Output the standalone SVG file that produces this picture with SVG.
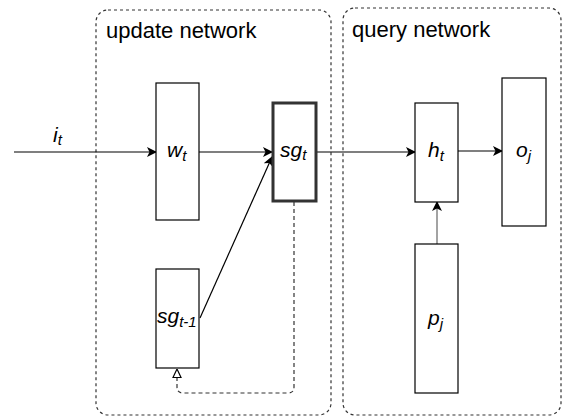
<svg xmlns="http://www.w3.org/2000/svg" width="564" height="419" viewBox="0 0 564 419">
  <style>
    .group { fill: none; stroke: #333; stroke-width: 1.2; stroke-dasharray: 3 3; }
    .box { fill: #fff; stroke: #000; stroke-width: 1.2; }
    .box-bold { fill: #fff; stroke: #333; stroke-width: 3; }
    .title { font-family: "Liberation Sans", Arial, sans-serif; font-size: 22px; fill: #000; }
    .lbl { font-family: "Liberation Sans", Arial, sans-serif; font-size: 21px; font-style: italic; fill: #000; }
    .sub { font-size: 15px; }
    .edge { fill: none; stroke: #000; stroke-width: 1.2; }
    .feedback { fill: none; stroke: #333; stroke-width: 1.2; stroke-dasharray: 4 3; }
  </style>
  <defs>
    <marker id="arrow" viewBox="0 0 10 10" refX="9" refY="5" markerWidth="10" markerHeight="10" markerUnits="userSpaceOnUse" orient="auto">
      <path d="M0,0 L10,5 L0,10 L2.5,5 Z" fill="#000"/>
    </marker>
    <marker id="open-tri" viewBox="0 0 10 10" refX="9.5" refY="5" markerWidth="10" markerHeight="10" markerUnits="userSpaceOnUse" orient="auto">
      <path d="M1,1 L9.5,5 L1,9 Z" fill="#fff" stroke="#000" stroke-width="1.2"/>
    </marker>
  </defs>

  <!-- container groups -->
  <g id="update-network">
    <rect class="group" x="96" y="10" width="235" height="405" rx="12"/>
    <text class="title" x="106" y="38">update network</text>
  </g>
  <g id="query-network">
    <rect class="group" x="343" y="8" width="218" height="407" rx="12"/>
    <text class="title" x="352" y="37">query network</text>
  </g>

  <!-- connectors -->
  <g id="connectors">
    <path class="edge" d="M14,152 L156,152" marker-end="url(#arrow)" stroke="#444"/>
    <path class="edge" d="M199,152 L272,152" marker-end="url(#arrow)"/>
    <path class="edge" d="M200,318 L272,157" marker-end="url(#arrow)"/>
    <path class="edge" d="M317,152 L415,152" marker-end="url(#arrow)"/>
    <path class="edge" d="M452,151 L502,151" marker-end="url(#arrow)"/>
    <path class="edge" d="M437,244 L437,202" marker-end="url(#arrow)" style="stroke:#666"/>
    <path class="feedback" d="M294,202 L294,387 Q294,393 288,393 L183,393 Q177,393 177,387 L177,369" marker-end="url(#open-tri)"/>
  </g>

  <!-- input label -->
  <g id="input">
    <text class="lbl" x="53" y="142">i<tspan class="sub" dy="3">t</tspan></text>
  </g>

  <!-- nodes -->
  <g id="w_t">
    <rect class="box" x="156" y="83" width="43" height="137"/>
    <text class="lbl" x="167" y="157">w<tspan class="sub" dy="4">t</tspan></text>
  </g>
  <g id="sg_t">
    <rect class="box-bold" x="273" y="103" width="43" height="98"/>
    <text class="lbl" x="280" y="157">sg<tspan class="sub" dy="3">t</tspan></text>
  </g>
  <g id="sg_t-1">
    <rect class="box" x="156" y="269" width="43" height="99"/>
    <text class="lbl" x="157" y="323">sg<tspan class="sub" dy="4">t-1</tspan></text>
  </g>
  <g id="h_t">
    <rect class="box" x="415" y="103" width="43" height="99"/>
    <text class="lbl" x="428" y="157">h<tspan class="sub" dy="4">t</tspan></text>
  </g>
  <g id="o_j">
    <rect class="box" x="502" y="78" width="44" height="148"/>
    <text class="lbl" x="516" y="157">o<tspan class="sub" dy="4">j</tspan></text>
  </g>
  <g id="p_j">
    <rect class="box" x="415" y="244" width="43" height="149"/>
    <text class="lbl" x="428" y="325">p<tspan class="sub" dy="4">j</tspan></text>
  </g>
</svg>
